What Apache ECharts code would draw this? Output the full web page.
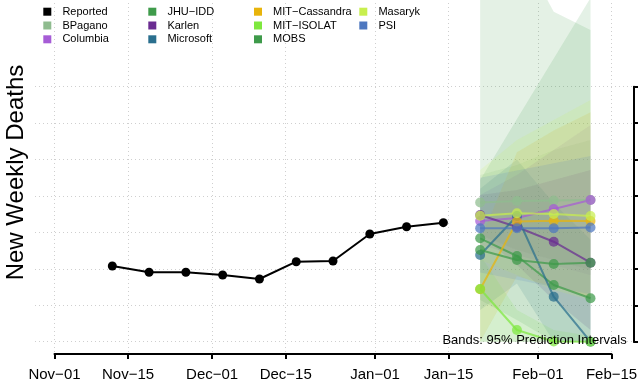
<!DOCTYPE html>
<html><head><meta charset="utf-8">
<script src="https://cdn.jsdelivr.net/npm/echarts@6/dist/echarts.min.js"></script>
<style>html,body{margin:0;padding:0;background:#fff}#c{width:638px;height:391px}</style>
</head><body><div id="c"></div>
<script>
// ---------- data ----------
const tickDates = ['2022-11-01','2022-11-15','2022-12-01','2022-12-15','2023-01-01','2023-01-15','2023-02-01','2023-02-15'];
const reportedDates = ['2022-11-12','2022-11-19','2022-11-26','2022-12-03','2022-12-10','2022-12-17','2022-12-24','2022-12-31','2023-01-07','2023-01-14'];
const reportedDeaths = [2078, 1905, 1905, 1831, 1721, 2196, 2215, 2956, 3157, 3267];
const forecastDates = ['2023-01-21','2023-01-28','2023-02-04','2023-02-11'];

const models = ['BPagano','Columbia','JHU\u2212IDD','Karlen','Microsoft','MIT\u2212Cassandra','MIT\u2212ISOLAT','MOBS','Masaryk','PSI'];
const modelColors = ['#8FBC8F','#A65CD6','#3F9B4B','#6A2C91','#2A6F8E','#E8B40B','#7EE83E','#3E9A4A','#C8EF4E','#4E77BF'];

const medBPagano = [3821, 3862, 3876, 3890];
const loBPagano  = [2929, 2517, 2243, 1968];
const hiBPagano  = [4576, 4850, 5262, 5537];

const medColumbia = [3313, 3396, 3643, 3890];
const loColumbia  = [2654, 2380, 2106, 1831];
const hiColumbia  = [4027, 4576, 5262, 5949];

const medJHU = [2838, 2352, 1556, 1191];
const loJHU  = [1147, 596, 0, 0];
const hiJHU  = [4439, 6113, 7771, 9435];

const medKarlen = [3478, 3149, 2745, 2169];
const loKarlen  = [2929, 2106, 1147, 321];
const hiKarlen  = [4027, 4164, 4439, 4713];

const medMicrosoft = [2380, 3450, 1235, 0];
const loMicrosoft  = [870, 1600, 0, 0];
const hiMicrosoft  = [4200, 5000, 3800, 2800];

const medCassandra = [1438, 3299, 3321, 3313];
const loCassandra  = [0, 1800, 1500, 1200];
const hiCassandra  = [2800, 5200, 5800, 6300];

const medIsolat = [1447, 321, 5, 0];
const loIsolat  = [0, 0, 0, 0];
const hiIsolat  = [2380, 870, 321, 156];

const medMOBS = [2517, 2243, 2133, 2169];
const loMOBS  = [0, 0, 0, 0];
const hiMOBS  = [12125, 10917, 9059, 8556];

const medMasaryk = [3459, 3525, 3505, 3450];
const loMasaryk  = [2243, 1831, 1419, 1147];
const hiMasaryk  = [4713, 5537, 6086, 6635];

const medPSI = [3113, 3113, 3113, 3135];
const loPSI  = [1900, 1700, 1500, 1300];
const hiPSI  = [4500, 4700, 4900, 5100];

const yTicksMax = 7000, yTicksStep = 1000;

const legendCols = [['Reported','BPagano','Columbia'],['JHU\u2212IDD','Karlen','Microsoft'],['MIT\u2212Cassandra','MIT\u2212ISOLAT','MOBS'],['Masaryk','PSI']];

// ---------- build ----------
const med = [medBPagano, medColumbia, medJHU, medKarlen, medMicrosoft, medCassandra, medIsolat, medMOBS, medMasaryk, medPSI];
const lo  = [loBPagano, loColumbia, loJHU, loKarlen, loMicrosoft, loCassandra, loIsolat, loMOBS, loMasaryk, loPSI];
const hi  = [hiBPagano, hiColumbia, hiJHU, hiKarlen, hiMicrosoft, hiCassandra, hiIsolat, hiMOBS, hiMasaryk, hiPSI];

const ts = s => Date.parse(s + 'T00:00:00Z');
const DAY = 86400000;
const t0 = ts(tickDates[0]), tEnd = ts(tickDates[tickDates.length - 1]);
const pxPerDay = 5.255;
const plotL = 35, plotR = 632, axisL = 54.5;
const xMinV = t0 - (axisL - plotL) / pxPerDay * DAY;
const xMaxV = t0 + (plotR - axisL) / pxPerDay * DAY;
const axisRight = axisL + (tEnd - t0) / DAY * pxPerDay;
const yTopTick = 86.7, yZero = 341.7, plotTop = -9, plotBottom = 354;
const unitPerPx = yTicksMax / (yZero - yTopTick);
const yMaxV = (yZero - plotTop) * unitPerPx;
const yMinV = -(plotBottom - yZero) * unitPerPx;

const FONT = 'Liberation Sans, Arial, Helvetica, sans-serif';
const MONTHS = ['Jan','Feb','Mar','Apr','May','Jun','Jul','Aug','Sep','Oct','Nov','Dec'];
const fmtDate = v => { const d = new Date(v); return MONTHS[d.getUTCMonth()] + '\u2212' + String(d.getUTCDate()).padStart(2, '0'); };
const tickTs = tickDates.map(ts);
const fTs = forecastDates.map(ts);
const rgba = (hex, a) => 'rgba(' + parseInt(hex.slice(1,3),16) + ',' + parseInt(hex.slice(3,5),16) + ',' + parseInt(hex.slice(5,7),16) + ',' + a + ')';

const series = [];
// 95% prediction interval bands
models.forEach((m, k) => {
  series.push({
    name: 'band ' + m, type: 'custom', xAxisIndex: 0, yAxisIndex: 0, silent: true, z: 1,
    data: fTs.map((t, i) => [t, lo[k][i], hi[k][i]]),
    encode: { x: 0, y: [1, 2] },
    renderItem: function (params, api) {
      if (params.dataIndex !== 0) return null;
      const up = fTs.map((t, i) => api.coord([t, hi[k][i]]));
      const dn = fTs.map((t, i) => api.coord([t, lo[k][i]])).reverse();
      const cs = params.coordSys;
      return {
        type: 'polygon', shape: { points: up.concat(dn) },
        style: { fill: rgba(modelColors[k], 0.14) },
        clipPath: { type: 'rect', shape: { x: cs.x, y: cs.y, width: cs.width, height: cs.height } }
      };
    }
  });
});
// reported
series.push({
  name: 'Reported', type: 'line', xAxisIndex: 0, yAxisIndex: 0,
  data: reportedDates.map((d, i) => [ts(d), reportedDeaths[i]]),
  symbol: 'circle', symbolSize: 9, itemStyle: { color: '#000' },
  lineStyle: { color: '#000', width: 2 }, z: 5
});
// forecasts
models.forEach((m, k) => {
  series.push({
    name: m, type: 'line', xAxisIndex: 0, yAxisIndex: 0,
    data: fTs.map((t, i) => [t, med[k][i]]),
    symbol: 'circle', symbolSize: 10,
    itemStyle: { color: modelColors[k], opacity: 0.72 },
    lineStyle: { color: modelColors[k], width: 2, opacity: 0.72 }, z: 4
  });
});

const dotted = { color: '#cfcfcf', width: 1, type: [1, 3] };

const option = {
  animation: false,
  textStyle: { fontFamily: FONT },
  grid: [
    { left: plotL, right: 638 - plotR, top: plotTop, bottom: 391 - plotBottom, outerBoundsMode: 'none', containLabel: false },
    { left: plotL, right: 638 - plotR, top: yTopTick, bottom: 391 - yZero, outerBoundsMode: 'none', containLabel: false },
    { left: axisL, right: 638 - axisRight, top: yTopTick, bottom: 391 - yZero, outerBoundsMode: 'none', containLabel: false }
  ],
  xAxis: [
    { gridIndex: 0, type: 'value', min: xMinV, max: xMaxV, axisLine: { show: false, onZero: false },
      axisTick: { show: false, customValues: tickTs }, axisLabel: { show: false, customValues: tickTs },
      splitLine: { show: true, lineStyle: dotted } },
    { gridIndex: 1, type: 'value', min: xMinV, max: xMaxV, show: false, axisLine: { onZero: false } },
    { gridIndex: 2, type: 'value', min: t0, max: tEnd, position: 'bottom', offset: plotBottom - yZero,
      axisLine: { show: true, onZero: false, lineStyle: { color: '#000', width: 2 } },
      axisTick: { show: true, inside: false, length: 5, lineStyle: { color: '#000', width: 2 }, customValues: tickTs },
      axisLabel: { show: true, customValues: tickTs, formatter: fmtDate, fontSize: 15, color: '#000', margin: 13, fontFamily: FONT },
      splitLine: { show: false } }
  ],
  yAxis: [
    { gridIndex: 0, type: 'value', min: yMinV, max: yMaxV, position: 'left',
      axisLine: { show: false, onZero: false }, axisTick: { show: false }, axisLabel: { show: false }, splitLine: { show: false },
      name: 'New Weekly Deaths', nameLocation: 'middle', nameRotate: 90, nameGap: 7,
      nameTextStyle: { fontSize: 24, color: '#000', fontFamily: FONT } },
    { gridIndex: 1, type: 'value', min: 0, max: yTicksMax, interval: yTicksStep,
      axisLine: { show: false, onZero: false }, axisTick: { show: false }, axisLabel: { show: false },
      splitLine: { show: true, lineStyle: dotted } },
    { gridIndex: 2, type: 'value', min: 0, max: yTicksMax, interval: yTicksStep, position: 'right',
      offset: 633.3 - axisRight,
      axisLine: { show: true, onZero: false, lineStyle: { color: '#000', width: 2 } },
      axisTick: { show: true, inside: false, length: 6, lineStyle: { color: '#000', width: 2 } },
      axisLabel: { show: false }, splitLine: { show: false } }
  ],
  legend: legendCols.map((d, i) => ({
    data: d, orient: 'vertical', left: [43.3, 148.3, 254, 359.3][i], top: 4.8, padding: 0,
    itemGap: 0, itemWidth: 8, itemHeight: 8, icon: 'rect',
    formatter: name => '  ' + name,
    itemStyle: { opacity: 1, borderWidth: 0 }, selectedMode: false,
    textStyle: { fontSize: 11, color: '#000', lineHeight: 13.8, fontFamily: FONT }
  })),
  title: {
    text: 'Bands: 95% Prediction Intervals', right: 11.3, top: 333.5, padding: 0,
    textStyle: { fontSize: 13, fontWeight: 'normal', color: '#000', fontFamily: FONT, lineHeight: 13 }
  },
  series: series
};
const chart = echarts.init(document.getElementById('c'), null, { renderer: 'canvas' });
chart.setOption(option);
</script></body></html>
